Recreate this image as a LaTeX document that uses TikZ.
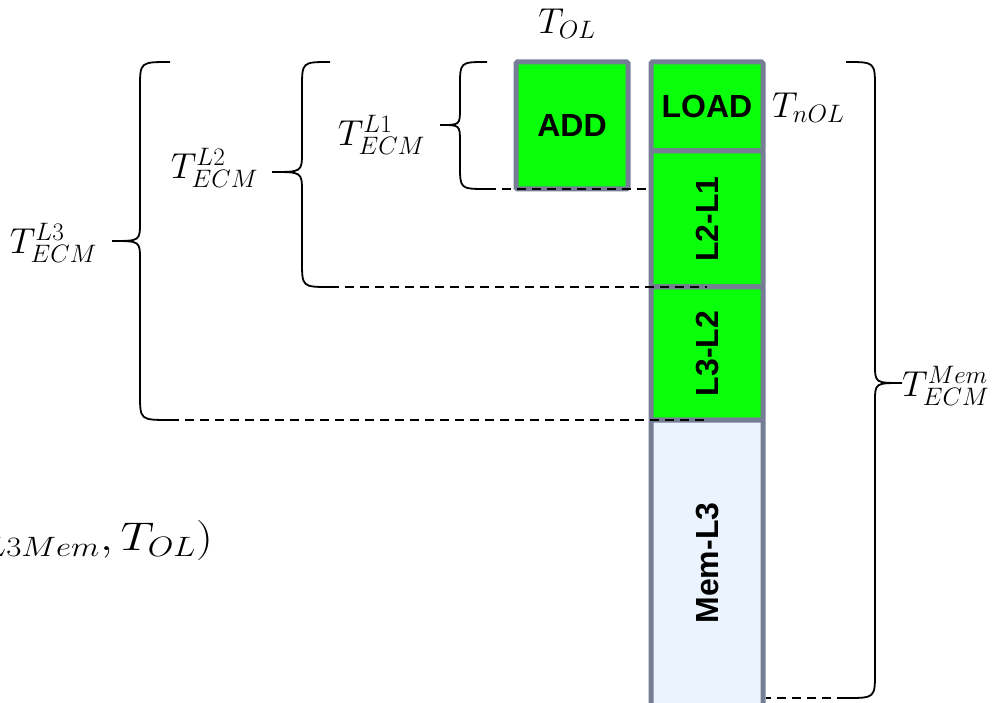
\RequirePackage{fix-cm}
\documentclass[tikz,border=0pt]{standalone}
\usepackage{fontspec}
\newfontfamily\boxfont{Liberation Sans}
\definecolor{boxgray}{RGB}{118,126,150}
\definecolor{boxgreen}{RGB}{10,255,10}
\definecolor{memblue}{RGB}{234,243,254}
\begin{document}
\begin{tikzpicture}[x=1pt,y=-1pt,
  blk/.style={draw=boxgray, line width=5pt, fill=boxgreen, rounded corners=1.5pt, inner sep=0pt,
    font=\boxfont\bfseries\fontsize{32}{36}\selectfont, minimum width=112pt},
  lbl/.style={font=\fontsize{36}{40}\selectfont, inner sep=0pt},
  brc/.style={line width=1.8pt, black},
  dsh/.style={line width=1.8pt, black, dash pattern=on 9pt off 6pt}]
\useasboundingbox (0,0) rectangle (996,703);

% boxes
\node[blk, minimum height=127pt] (add) at (572,125.5) {ADD};
\node[blk, minimum height=89pt] (load) at (707,106.5) {LOAD};
\node[blk, rotate=90, minimum width=136pt, minimum height=112pt] (l2l1) at (707,219) {L2-L1};
\node[blk, rotate=90, minimum width=133pt, minimum height=112pt] (l3l2) at (707,353.5) {L3-L2};
\node[blk, fill=memblue, rotate=90, minimum width=286pt, minimum height=112pt] (mem) at (707,563) {Mem-L3};

% braces
\draw[brc] (487,62) .. controls (460,62) .. (460,86) -- (460,108) .. controls (460,125) .. (440,125)
  .. controls (460,125) .. (460,142) -- (460,165) .. controls (460,189) .. (487,189) coordinate (b1);
\draw[brc] (330,62) .. controls (302,62) .. (302,88) -- (302,152) .. controls (302,172) .. (272,172)
  .. controls (302,172) .. (302,192) -- (302,261) .. controls (302,287) .. (330,287) coordinate (b2);
\draw[brc] (170,62) .. controls (140,62) .. (140,88) -- (140,222) .. controls (140,241) .. (112,241)
  .. controls (140,241) .. (140,260) -- (140,394) .. controls (140,420) .. (170,420) coordinate (b3);
\draw[brc] (846,62) .. controls (875,62) .. (875,88) -- (875,364) .. controls (875,383) .. (902,383)
  .. controls (875,383) .. (875,402) -- (875,672) .. controls (875,698) .. (846,698) coordinate (b4);

% dashed guides
\draw[dsh] (b1) -- (b1 -| l2l1.north);
\draw[dsh] (b2) -- (b2 -| l2l1.west);
\draw[dsh] (b3) -- (b3 -| l3l2.west);
\draw[dsh] (b4) -- (b4 -| mem.south);

% labels
\node[lbl] (tol) at (567,24) {$T_{OL}$};
\node[lbl, anchor=west] (tnol) at (772,108) {$T_{nOL}$};
\node[lbl, anchor=east] (t1) at (425,135) {$T^{L1}_{ECM}$};
\node[lbl, anchor=east] (t2) at (258,168) {$T^{L2}_{ECM}$};
\node[lbl, anchor=east] (t3) at (97,243) {$T^{L3}_{ECM}$};
\node[lbl, anchor=west] (tm) at (902,386) {$T^{Mem}_{ECM}$};
\node[font=\fontsize{40}{44}\selectfont, anchor=base east, inner sep=0pt, xscale=1.18, transform shape] (eq) at (213,550) {$T_{L3Mem},T_{OL})$};
\end{tikzpicture}
\end{document}
